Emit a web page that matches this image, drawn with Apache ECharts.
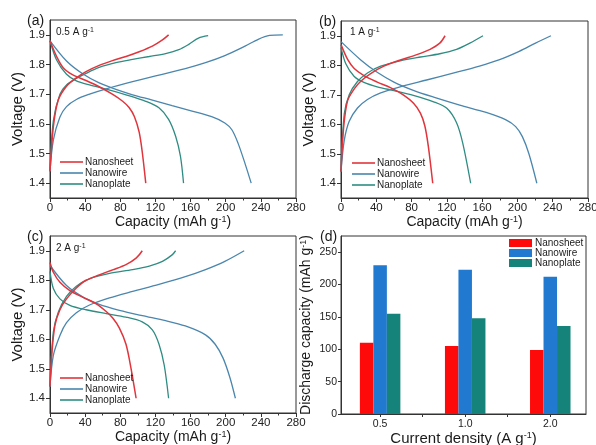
<!DOCTYPE html>
<html>
<head>
<meta charset="utf-8">
<script src="https://cdn.jsdelivr.net/npm/echarts@6/dist/echarts.min.js"></script>
<style>html,body{margin:0;padding:0;background:#fff}#c{width:596px;height:445px}</style>
</head>
<body>
<div id="c"></div>
<script>
// ---- data (capacity mAh/g, voltage V) ----
const seriesNames = ['Nanosheet', 'Nanowire', 'Nanoplate'];
const voltTicks = [1.4, 1.5, 1.6, 1.7, 1.8, 1.9];
const rateLabels = ['0.5 A g', '1 A g', '2 A g'];

const aSheetCh = [[0,1.44],[3.8,1.59],[9.4,1.68],[18.8,1.727],[30,1.755],[41,1.776],[56,1.797],[71,1.813],[86.5,1.827],[101.5,1.843],[116.5,1.862],[128,1.883],[135,1.9]];
const aSheetDis = [[0,1.88],[7.5,1.827],[15,1.789],[26,1.765],[41,1.746],[56,1.725],[71.4,1.699],[82.7,1.676],[90,1.655],[96,1.625],[101.5,1.572],[105,1.505],[109,1.40]];
const aWireCh = [[0,1.44],[3.8,1.545],[11.3,1.623],[18.8,1.658],[30,1.682],[45,1.700],[64,1.718],[94,1.742],[124,1.764],[154,1.786],[177,1.806],[199,1.830],[222,1.862],[237,1.885],[250,1.898],[265,1.9]];
const aWireDis = [[0,1.88],[18.8,1.812],[37.6,1.768],[56,1.738],[75,1.716],[94,1.698],[116.5,1.680],[139,1.661],[161.7,1.643],[184,1.624],[199,1.603],[207,1.58],[214,1.535],[222,1.466],[229,1.40]];
const aPlateCh = [[0,1.44],[3.8,1.61],[11.3,1.70],[18.8,1.731],[30,1.753],[41,1.77],[56,1.79],[75,1.806],[94,1.817],[113,1.827],[131.6,1.837],[146.6,1.85],[158,1.868],[169,1.889],[180,1.897]];
const aPlateDis = [[0,1.88],[7.5,1.815],[18.8,1.767],[30,1.745],[45,1.731],[64,1.717],[86.5,1.698],[109,1.676],[124,1.654],[135,1.615],[143,1.558],[148.5,1.49],[152,1.40]];

const bSheetCh = [[0,1.44],[3,1.59],[7.5,1.68],[15,1.72],[22.4,1.746],[33.6,1.772],[48.6,1.797],[67.3,1.818],[86,1.836],[101,1.854],[112,1.875],[118,1.9]];
const bSheetDis = [[0,1.87],[7.5,1.82],[15,1.789],[26,1.765],[41,1.743],[56,1.724],[71,1.699],[82,1.672],[90,1.638],[95,1.595],[99,1.525],[104,1.40]];
const bWireCh = [[0,1.44],[3.7,1.545],[9.3,1.61],[18.7,1.655],[30,1.684],[45,1.706],[67,1.727],[97,1.75],[127,1.773],[157,1.797],[179,1.818],[202,1.847],[220.5,1.875],[238,1.9]];
const bWireDis = [[0,1.88],[22.4,1.818],[41,1.776],[60,1.743],[82,1.715],[105,1.692],[134.6,1.665],[164.5,1.64],[187,1.615],[198,1.592],[205.6,1.558],[213,1.50],[222,1.40]];
const bPlateCh = [[0,1.44],[3.7,1.635],[9.3,1.70],[18.7,1.745],[30,1.774],[45,1.797],[67,1.815],[90,1.828],[112,1.839],[131,1.854],[146,1.875],[161,1.9]];
const bPlateDis = [[0,1.86],[5.6,1.804],[15,1.762],[26,1.742],[41,1.727],[60,1.714],[82,1.698],[105,1.676],[120,1.654],[131,1.605],[138,1.536],[147,1.40]];

const cSheetCh = [[0,1.44],[1.9,1.545],[5.6,1.647],[11.3,1.70],[18.8,1.737],[30,1.774],[41,1.800],[56,1.818],[71,1.835],[86.5,1.853],[98,1.875],[105,1.9]];
const cSheetDis = [[0,1.86],[3.8,1.827],[11.3,1.793],[22.6,1.765],[37.6,1.742],[52.6,1.72],[64,1.694],[71.4,1.672],[79,1.638],[86.5,1.583],[92,1.505],[98,1.40]];
const cWireCh = [[0,1.44],[3.8,1.545],[11.3,1.613],[18.8,1.656],[30,1.69],[45,1.716],[67.7,1.740],[94,1.762],[124,1.786],[154,1.812],[177,1.836],[199,1.864],[221,1.9]];
const cWireDis = [[0,1.85],[18.8,1.782],[37.6,1.743],[56,1.718],[79,1.698],[105,1.68],[131.6,1.663],[154,1.645],[177,1.615],[188,1.583],[197,1.536],[205,1.468],[211,1.40]];
const cPlateCh = [[0,1.44],[3.8,1.624],[9.4,1.692],[18.8,1.745],[30,1.78],[45,1.805],[67.7,1.823],[94,1.836],[113,1.848],[128,1.864],[139,1.886],[143,1.9]];
const cPlateDis = [[0,1.83],[3.8,1.772],[11.3,1.737],[22.6,1.715],[41,1.70],[64,1.687],[86.5,1.675],[105,1.659],[116.5,1.632],[124,1.584],[130,1.512],[135,1.40]];

// panel (d): discharge capacity vs current density
const densityCats = ['0.5', '1.0', '2.0'];
const barSheet = [110, 105, 99];
const barWire = [230, 223, 212];
const barPlate = [155, 148, 136];
const capTicks = [0, 50, 100, 150, 200, 250];

// ---- styles ----
const FONT = '"Liberation Sans", Arial, sans-serif';
const lineColors = ['#e0353d', '#4a86ad', '#2f8c83'];
const barColors = ['#ff0a0a', '#2279d0', '#158379'];
const axisColor = '#333';

const chart = echarts.init(document.getElementById('c'), null, {renderer: 'canvas'});

const grids = [
  {left: 50, top: 20, width: 246, height: 178},
  {left: 341, top: 21, width: 247, height: 177},
  {left: 50, top: 236, width: 246, height: 177},
  {left: 341, top: 236, width: 245, height: 178}
].map(g => Object.assign({show: true, borderColor: axisColor, borderWidth: 1, backgroundColor: 'transparent', containLabel: false, outerBoundsMode: 'none'}, g));

const supRich = (size) => ({
  n: {fontSize: size, fontFamily: FONT, color: '#1a1a1a'},
  s: {fontSize: Math.round(size * 0.62), fontFamily: FONT, color: '#1a1a1a', verticalAlign: 'top'}
});

function capAxis(i, showName) {
  return {
    type: 'value', gridIndex: i, min: 0, max: 280, interval: 40,
    axisLine: {show: true, lineStyle: {color: axisColor, width: 1}},
    axisTick: {show: true, inside: false, length: 4, lineStyle: {color: axisColor}},
    minorTick: {show: true, splitNumber: 2, length: 2.5, lineStyle: {color: axisColor}},
    splitLine: {show: false},
    axisLabel: {fontSize: 11.5, color: '#222', fontFamily: FONT, margin: 4},
    name: showName ? '{n|Capacity (mAh g}{s|-1}{n|)}' : '',
    nameLocation: 'middle', nameGap: 15,
    nameTextStyle: {rich: supRich(14)}
  };
}
function voltAxis(i) {
  return {
    type: 'value', gridIndex: i, min: 1.35, max: 1.95,
    axisLine: {show: true, lineStyle: {color: axisColor, width: 1}},
    axisTick: {show: true, inside: false, length: 4, customValues: voltTicks, lineStyle: {color: axisColor}},
    splitLine: {show: false},
    axisLabel: {fontSize: 11.5, color: '#222', fontFamily: FONT, margin: 5, customValues: voltTicks,
      formatter: v => v.toFixed(1)},
    name: 'Voltage (V)', nameLocation: 'middle', nameGap: 24, nameRotate: 90,
    nameTextStyle: {fontSize: 15, fontFamily: FONT, color: '#1a1a1a'}
  };
}

const xAxes = [capAxis(0, true), capAxis(1, true), capAxis(2, true), {
  type: 'value', gridIndex: 3, min: 0.54, max: 3.42,
  axisLine: {show: true, lineStyle: {color: axisColor, width: 1}},
  axisTick: {show: true, inside: false, length: 3, customValues: [1, 1.5, 2, 2.5, 3], lineStyle: {color: axisColor}},
  splitLine: {show: false},
  axisLabel: {fontSize: 10.5, color: '#222', fontFamily: FONT, margin: 5, customValues: [1, 2, 3],
    formatter: v => densityCats[Math.round(v) - 1]},
  name: '{n|Current density (A g}{s|-1}{n|)}', nameLocation: 'middle', nameGap: 16,
  nameTextStyle: {rich: supRich(15)}
}];
const yAxes = [voltAxis(0), voltAxis(1), voltAxis(2), {
  type: 'value', gridIndex: 3, min: 0, max: 275,
  axisLine: {show: true, lineStyle: {color: axisColor, width: 1}},
  axisTick: {show: true, inside: false, length: 3, customValues: capTicks, lineStyle: {color: axisColor}},
  splitLine: {show: false},
  axisLabel: {fontSize: 10.5, color: '#222', fontFamily: FONT, margin: 4, customValues: capTicks},
  name: '{n|Discharge capacity (mAh g}{s|-1}{n|)}', nameLocation: 'middle', nameGap: 28, nameRotate: 90,
  nameTextStyle: {rich: supRich(14)}
}];

const panels = [
  [[aSheetCh, aSheetDis], [aWireCh, aWireDis], [aPlateCh, aPlateDis]],
  [[bSheetCh, bSheetDis], [bWireCh, bWireDis], [bPlateCh, bPlateDis]],
  [[cSheetCh, cSheetDis], [cWireCh, cWireDis], [cPlateCh, cPlateDis]]
];
const series = [];
panels.forEach((panel, pi) => {
  panel.forEach((curves, si) => {
    curves.forEach(d => {
      series.push({
        type: 'line', name: seriesNames[si], xAxisIndex: pi, yAxisIndex: pi,
        data: d, showSymbol: false, symbol: 'none', smooth: 0.3,
        lineStyle: {color: lineColors[si], width: si === 0 ? 1.5 : 1.3},
        itemStyle: {color: lineColors[si]}, silent: true, z: 3 - si
      });
    });
  });
});
[barSheet, barWire, barPlate].forEach((vals, si) => {
  series.push({
    type: 'bar', name: seriesNames[si], xAxisIndex: 3, yAxisIndex: 3,
    data: vals.map((v, k) => [k + 1, v]),
    barWidth: 13.5, barGap: '0%',
    itemStyle: {color: barColors[si]}, silent: true
  });
});

function lineLegend(left, top) {
  return {
    left, top, orient: 'vertical', itemGap: 1, itemWidth: 23, itemHeight: 1.6,
    selectedMode: false, padding: 0,
    textStyle: {fontSize: 10, fontFamily: FONT, color: '#222', padding: [0, 0, 0, -3]},
    data: seriesNames.map((n, i) => ({name: n, icon: 'rect', itemStyle: {color: lineColors[i]}}))
  };
}
const legends = [lineLegend(60, 157), lineLegend(352, 158), lineLegend(60, 373), {
  left: 509, top: 238, orient: 'vertical', itemGap: 0, itemWidth: 23, itemHeight: 8,
  selectedMode: false, padding: 0,
  textStyle: {fontSize: 10, fontFamily: FONT, color: '#222', padding: [0, 0, 0, -2]},
  data: seriesNames.map((n, i) => ({name: n, icon: 'rect', itemStyle: {color: barColors[i]}}))
}];

function txt(x, y, text, size, extra) {
  return Object.assign({type: 'text', x, y, style: {text, fontSize: size, fontFamily: FONT, fill: '#1a1a1a', textVerticalAlign: 'middle'}}, extra || {});
}
function rateTxt(x, y, t) {
  return {type: 'text', x, y, style: {
    text: '{n|' + t + '}{s|-1}', fontFamily: FONT, textVerticalAlign: 'middle',
    rich: {n: {fontSize: 10, fontFamily: FONT, fill: '#1a1a1a'}, s: {fontSize: 7, fontFamily: FONT, fill: '#1a1a1a', verticalAlign: 'top'}}
  }};
}
const graphics = [
  txt(27, 21, '(a)', 14), txt(319, 22, '(b)', 14), txt(27, 237, '(c)', 14), txt(320, 237, '(d)', 14),
  rateTxt(56, 32, rateLabels[0]), rateTxt(350, 32, rateLabels[1]), rateTxt(56, 248, rateLabels[2])
];

chart.setOption({
  animation: false,
  textStyle: {fontFamily: FONT},
  grid: grids, xAxis: xAxes, yAxis: yAxes, series, legend: legends, graphic: graphics
});
</script>
</body>
</html>
